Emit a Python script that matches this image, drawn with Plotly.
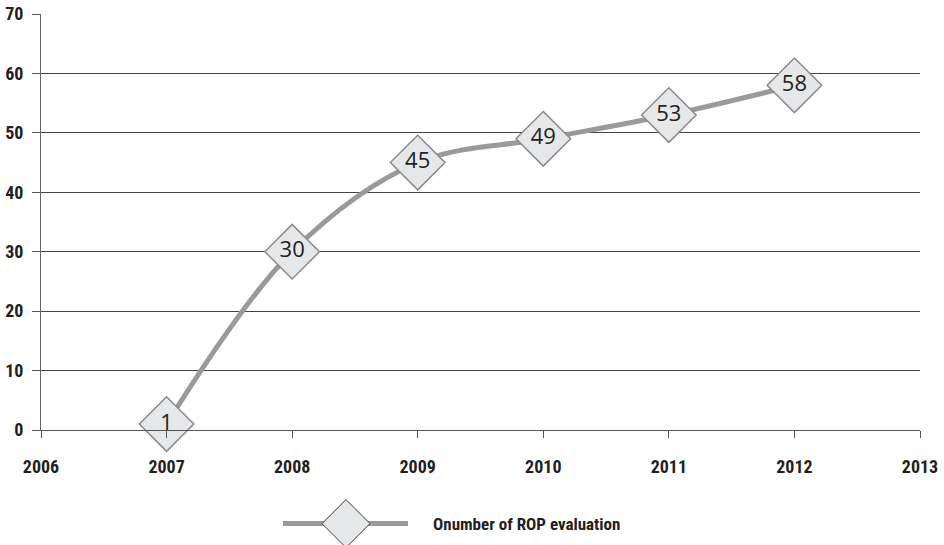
import plotly.graph_objects as go

# ROP evaluations per year
years = [2007, 2008, 2009, 2010, 2011, 2012]
evaluations = [1, 30, 45, 49, 53, 58]
series_name = "Onumber of ROP evaluation"

x_ticks = [2006, 2007, 2008, 2009, 2010, 2011, 2012, 2013]
y_ticks = [0, 10, 20, 30, 40, 50, 60, 70]

cond_family = "Roboto Condensed, Noto Sans ExtraCondensed, DejaVu Sans Condensed, sans-serif"
tick_font = dict(family=cond_family, size=18, color="#231f20", weight="bold")

fig = go.Figure()
fig.add_trace(go.Scatter(
    x=years, y=evaluations,
    mode="lines+markers+text",
    name=series_name,
    line=dict(color="#9a9a9c", width=5, shape="spline", smoothing=1),
    marker=dict(symbol="diamond", size=42, color="#e6e7e8",
                line=dict(color="#8a8a8c", width=1.5)),
    text=[str(v) for v in evaluations],
    textposition="middle center",
    textfont=dict(family="Open Sans, Liberation Sans, sans-serif", size=22, color="#231f20"),
    showlegend=False,
    cliponaxis=False,
))

fig.update_layout(
    width=944, height=545,
    margin=dict(l=41, r=24, t=14, b=115),
    paper_bgcolor="white", plot_bgcolor="white",
    xaxis=dict(range=[2006, 2013], tickvals=x_ticks, ticktext=[str(v) for v in x_ticks],
               showgrid=False, showline=True, linecolor="#555555", linewidth=1,
               ticks="outside", ticklen=7, tickcolor="#555555", tickfont=tick_font,
               ticklabelstandoff=13,
               zeroline=False, fixedrange=True, automargin=False),
    yaxis=dict(range=[0, 70], tickvals=y_ticks, showgrid=True, gridcolor="#444444",
               gridwidth=1, showline=True, linecolor="#666666", linewidth=1,
               ticks="outside", ticklen=8, tickcolor="#555555", tickfont=tick_font,
               ticklabelstandoff=5,
               zeroline=False, fixedrange=True, automargin=False),
)

# Legend drawn by hand so the diamond keeps the same size as the plotted markers
leg_y = -0.225
fig.add_shape(type="line", xref="paper", yref="paper",
              x0=(283 - 41) / 879, x1=(408 - 41) / 879, y0=leg_y, y1=leg_y,
              line=dict(color="#9a9a9c", width=5))
fig.add_shape(type="path", xref="paper", yref="paper",
              xsizemode="pixel", ysizemode="pixel",
              xanchor=(346 - 41) / 879, yanchor=leg_y,
              path="M -24 0 L 0 24 L 24 0 L 0 -24 Z",
              fillcolor="#e6e7e8", line=dict(color="#3a3a3a", width=1))
fig.add_annotation(xref="paper", yref="paper", x=(431 - 41) / 879, y=leg_y,
                   xanchor="left", yanchor="middle", showarrow=False,
                   text=series_name,
                   font=dict(family=cond_family, size=17, color="#231f20", weight="bold"))

fig.write_html("out.html")
